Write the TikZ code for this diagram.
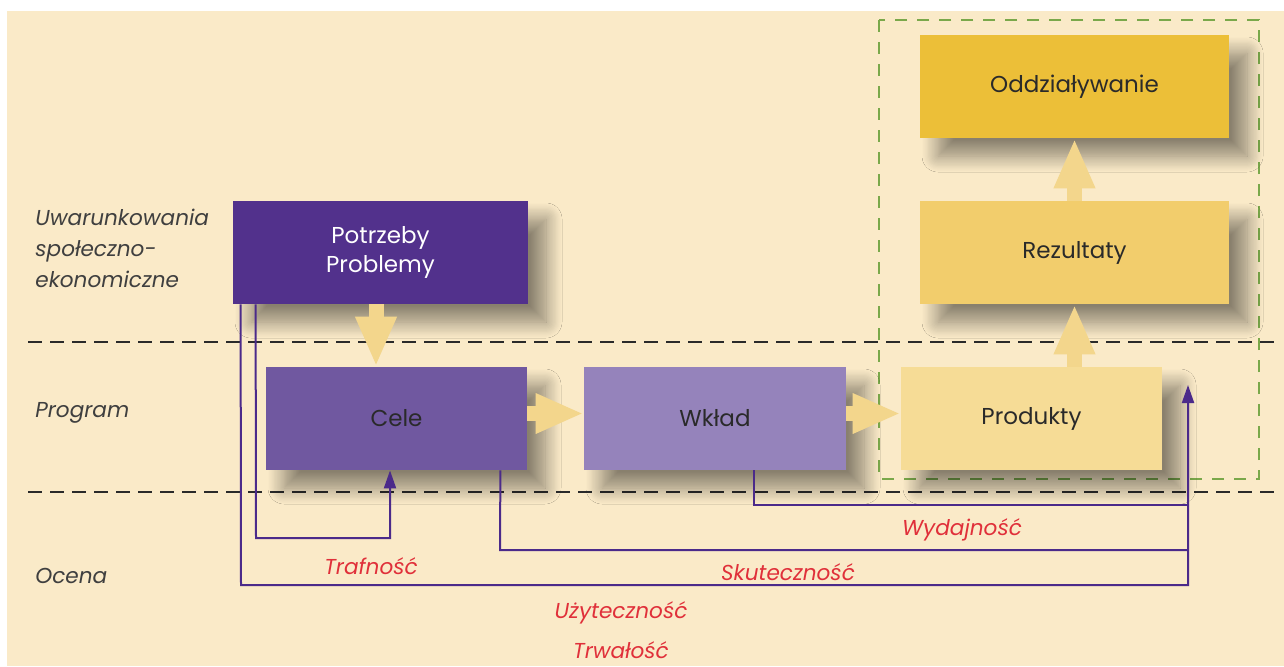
\documentclass[tikz,border=0pt]{standalone}
\usepackage{fontspec}
\setmainfont{Poppins}
\usetikzlibrary{arrows.meta,shadows.blur}
\definecolor{bg}{HTML}{FAEAC8}
\definecolor{purA}{HTML}{52318C}
\definecolor{purB}{HTML}{7058A0}
\definecolor{purC}{HTML}{9583BB}
\definecolor{prodc}{HTML}{F6DC96}
\definecolor{rezc}{HTML}{F2CD6C}
\definecolor{oddc}{HTML}{ECBF38}
\definecolor{grn}{HTML}{7AA84A}
\definecolor{lpur}{HTML}{4B2A8A}
\definecolor{redl}{HTML}{E0303A}
\definecolor{dtext}{HTML}{2A2A2A}
\definecolor{fatc}{HTML}{F3D68C}
\tikzset{
  box/.style={rectangle, minimum height=51.5pt, align=center, font=\fontsize{11.5}{14.5}\selectfont, text=dtext,
    blur shadow={shadow xshift=9pt, shadow yshift=-9pt, shadow blur radius=8pt, shadow opacity=45, shadow blur steps=14}},
  fat/.style={draw=fatc, line width=7.5pt, -{Triangle[width=19pt,length=25pt]}},
  fath/.style={draw=fatc, line width=7.5pt, -{Triangle[width=18.5pt,length=24pt]}},
  conn/.style={draw=lpur, line width=1pt},
  conna/.style={conn, -{Triangle[width=6pt,length=9pt]}},
  evl/.style={text=redl, font=\fontsize{10.8}{13}\selectfont\itshape, inner sep=1pt},
  sidel/.style={text=dtext!90, font=\fontsize{10.8}{15.5}\selectfont\itshape, align=left, anchor=west, inner sep=0pt},
  sep/.style={draw=dtext, line width=1.2pt, dash pattern=on 7pt off 4pt}
}
\begin{document}
\begin{tikzpicture}[x=0.5pt,y=-0.5pt]
\useasboundingbox (0,0) rectangle (1284,666);
\fill[bg] (7,11) rectangle (1284,666);
% separators
\draw[sep] (28,342) -- (1280,342);
\draw[sep] (28,492) -- (1280,492);
% green dashed group
\draw[grn, line width=1.2pt, dash pattern=on 6pt off 5pt] (879,20) rectangle (1259,479);
% side labels
\node[sidel] (uw) at (35,248) {Uwarunkowania\\społeczno-\\ekonomiczne};
\node[sidel] (pr) at (35,413) {Program};
\node[sidel] (oc) at (35,576) {Ocena};
% boxes
\node[box, fill=purA, text=white, minimum width=147.5pt] (pot) at (380.5,252.5) {Potrzeby\\Problemy};
\node[box, fill=purB, minimum width=130.5pt] (cele) at (396.5,418.5) {Cele};
\node[box, fill=purC, minimum width=131pt] (wk) at (715,418.5) {Wkład};
\node[box, fill=prodc, minimum width=130.5pt] (prod) at (1031.5,418.5) {Produkty};
\node[box, fill=rezc, minimum width=154.5pt] (rez) at (1074.5,252.5) {Rezultaty};
\node[box, fill=oddc, minimum width=154.5pt] (odd) at (1074.5,86.5) {Oddziaływanie};
% fat arrows
\draw[fat] ([xshift=-2.25pt]pot.south) -- ([xshift=-2.25pt]pot.south |- cele.north);
\draw[fath] ([yshift=2.5pt]cele.east) -- ([yshift=2.5pt]wk.west);
\draw[fath] ([yshift=2.5pt]wk.east) -- ([yshift=2.5pt]prod.west);
\draw[fat] (rez.south |- prod.north) -- (rez.south);
\draw[fat] (rez.north) -- (odd.south);
% evaluation connectors
\coordinate (pe) at (1188,385);
\coordinate (e1) at (1188,585);
\coordinate (e1l) at (241,585);
\coordinate (t1) at (256,538);
\coordinate (t2) at (390,538);
\coordinate (s1) at (500,550);
\coordinate (s2) at (1188,550);
\coordinate (w1) at (754,505);
\coordinate (w2) at (1188,505);
\draw[conna] ([xshift=4pt]pot.south west) -- (e1l) -- (e1) -- (pe);
\draw[conna] ([xshift=11.5pt]pot.south west) -- (t1) -- (t2) -- ([xshift=-3.25pt]cele.south);
\draw[conn] ([xshift=-13.5pt]cele.south east) -- (s1) -- (s2);
\draw[conn] ([xshift=19.5pt]wk.south) -- (w1) -- (w2);
% evaluation labels
\node[evl] (lw) at (962,530) {Wydajność};
\node[evl] (lt) at (371,566) {Trafność};
\node[evl] (ls) at (788,572) {Skuteczność};
\node[evl] (lu) at (621,613) {Użyteczność};
\node[evl] (ltr) at (621,650) {Trwałość};
\end{tikzpicture}
\end{document}
